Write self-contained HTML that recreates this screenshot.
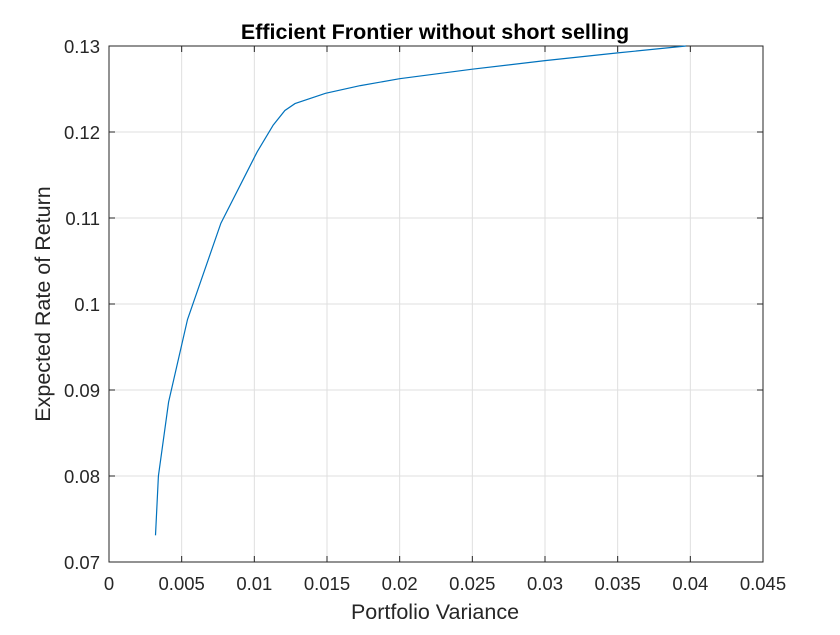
<!DOCTYPE html>
<html><head><meta charset="utf-8"><style>
body{margin:0;background:#fff;}
svg text{font-family:"Liberation Sans",Arial,sans-serif;}
</style></head><body>
<svg id="chart" width="840" height="630">
<rect x="0" y="0" width="840" height="630" fill="#fff"/>
<g id="grid"></g>
<g id="axes"></g>
<path id="line" fill="none" stroke="#0072bd" stroke-width="1.2"/>
<text x="435" y="39" text-anchor="middle" font-size="21.5" font-weight="bold">Efficient Frontier without short selling</text>
<text x="435" y="619" text-anchor="middle" font-size="21.5" fill="#262626">Portfolio Variance</text>
<text transform="translate(50,304) rotate(-90)" text-anchor="middle" font-size="21.5" fill="#262626">Expected Rate of Return</text>
</svg>
<script>
const variance=[0.0032,0.0034,0.0041,0.0054,0.0077,0.0102,0.0113,0.0121,0.0128,0.0149,0.0173,0.0200,0.0250,0.0300,0.0350,0.0397];
const returns=[0.0731,0.0800,0.0886,0.0982,0.1094,0.1177,0.1208,0.1225,0.1233,0.1245,0.1254,0.1262,0.1273,0.1283,0.1292,0.1300];
const xTicks=[0,0.005,0.01,0.015,0.02,0.025,0.03,0.035,0.04,0.045];
const xTickLabels=["0","0.005","0.01","0.015","0.02","0.025","0.03","0.035","0.04","0.045"];
const yTicks=[0.07,0.08,0.09,0.1,0.11,0.12,0.13];
const yTickLabels=["0.07","0.08","0.09","0.1","0.11","0.12","0.13"];
const L=109,R=763,T=46,B=562;
const xs=v=>L+(v-0)/(0.045)*(R-L);
const ys=v=>B-(v-0.07)/(0.06)*(B-T);
const NS="http://www.w3.org/2000/svg";
const grid=document.getElementById('grid'),axes=document.getElementById('axes');
function mk(tag,attrs,parent){const e=document.createElementNS(NS,tag);for(const k in attrs)e.setAttribute(k,attrs[k]);parent.appendChild(e);return e;}
xTicks.forEach((t,i)=>{
  const x=xs(t);
  const g=mk('line',{x1:x,x2:x,y1:T,y2:B,stroke:'#dfdfdf','stroke-width':1},grid);
  
  
  const tk=mk('line',{x1:x,x2:x,y1:B,y2:B-6,stroke:'#262626'},axes);
  
  
  const tk2=mk('line',{x1:x,x2:x,y1:T,y2:T+6,stroke:'#262626'},axes);
  
  
  const tx=mk('text',{x:x,y:B+28,'text-anchor':'middle','font-size':18.5,fill:'#262626'},axes);
  tx.textContent=xTickLabels[i];
  
  
});
yTicks.forEach((t,i)=>{
  const y=ys(t);
  const g=mk('line',{x1:L,x2:R,y1:y,y2:y,stroke:'#dfdfdf','stroke-width':1},grid);
  
  
  const tk=mk('line',{x1:L,x2:L+6,y1:y,y2:y,stroke:'#262626'},axes);
  
  
  const tk2=mk('line',{x1:R,x2:R-6,y1:y,y2:y,stroke:'#262626'},axes);
  
  
  const tx=mk('text',{x:L-9,y:y+7,'text-anchor':'end','font-size':18.5,fill:'#262626'},axes);
  tx.textContent=yTickLabels[i];
  
  
});
const box=mk('rect',{x:L,y:T,width:R-L,height:B-T,fill:'none',stroke:'#262626','stroke-width':1},axes);


document.getElementById('line').setAttribute('d',variance.map((v,i)=>(i?'L':'M')+xs(v).toFixed(1)+','+ys(returns[i]).toFixed(1)).join(' '));
</script>
</body></html>
